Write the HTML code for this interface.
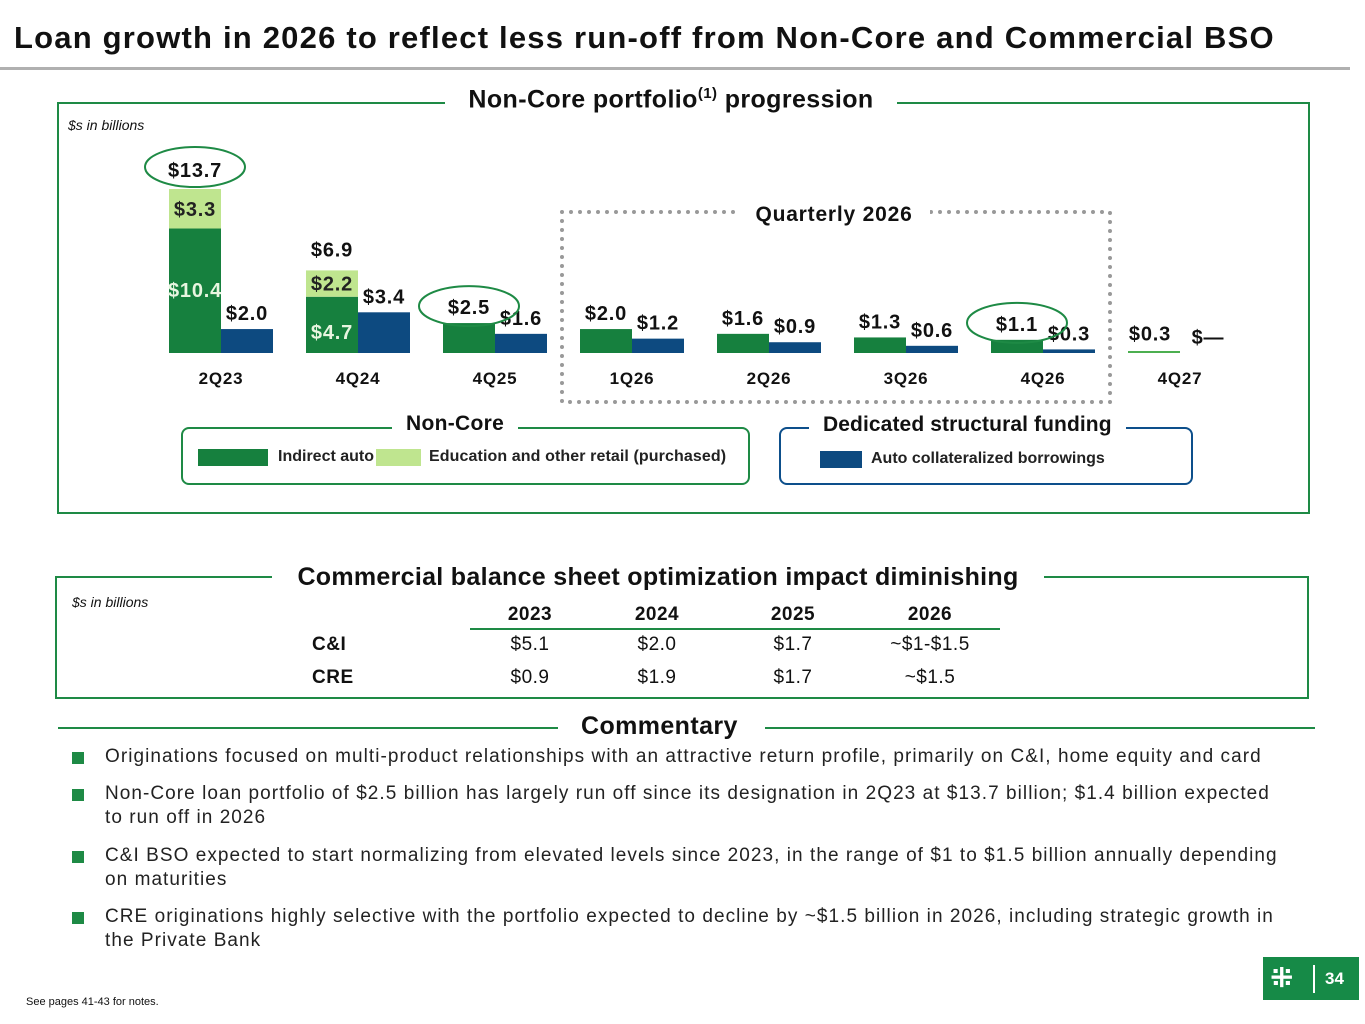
<!DOCTYPE html>
<html><head><meta charset="utf-8"><style>
body{margin:0;width:1365px;height:1024px;background:#fff;font-family:"Liberation Sans","DejaVu Sans",sans-serif;position:relative;overflow:hidden;color:#111}
.a{position:absolute;white-space:nowrap}
.b{font-weight:bold}
</style></head><body>
<div class="a b" style="left:14px;top:20px;font-size:31px;letter-spacing:1.2px;color:#111">Loan growth in 2026 to reflect less run-off from Non-Core and Commercial BSO</div>
<div class="a" style="left:0;top:67px;width:1350px;height:3px;background:#b0b0b0"></div>

<div class="a" style="left:57px;top:102px;width:1249px;height:408px;border:2px solid #1e8a45"></div>
<div class="a b" style="left:445px;top:85px;width:452px;text-align:center;background:#fff;font-size:25px;letter-spacing:0.4px;color:#111">Non-Core portfolio<sup style="font-size:15px">(1)</sup> progression</div>
<div class="a" style="left:68px;top:117px;font-size:14px;font-style:italic">$s in billions</div>

<svg class="a" style="left:0;top:0" width="1365" height="520" id="chart"></svg>

<div class="a" style="left:181px;top:427px;width:565px;height:54px;border:2px solid #1e8a45;border-radius:8px"></div>
<div class="a b" style="left:392px;top:412px;padding:0 14px;background:#fff;font-size:21px;letter-spacing:0.3px;color:#111">Non-Core</div>
<div class="a" style="left:198px;top:449px;width:70px;height:17px;background:#16803e"></div>
<div class="a b" style="left:278px;top:448px;font-size:16px;color:#222">Indirect auto</div>
<div class="a" style="left:376px;top:449px;width:45px;height:17px;background:#bfe58f"></div>
<div class="a b" style="left:429px;top:448px;font-size:16px;letter-spacing:0.1px;color:#222">Education and other retail (purchased)</div>

<div class="a" style="left:779px;top:427px;width:410px;height:54px;border:2px solid #0d4f8b;border-radius:8px"></div>
<div class="a b" style="left:809px;top:413px;padding:0 14px;background:#fff;font-size:21px;letter-spacing:0.1px;color:#111">Dedicated structural funding</div>
<div class="a" style="left:820px;top:451px;width:42px;height:17px;background:#0d4a80"></div>
<div class="a b" style="left:871px;top:450px;font-size:16px;color:#222">Auto collateralized borrowings</div>

<div class="a" style="left:55px;top:576px;width:1250px;height:119px;border:2px solid #1e8a45"></div>
<div class="a b" style="left:272px;top:563px;width:772px;text-align:center;background:#fff;font-size:25px;letter-spacing:0.3px;color:#111">Commercial balance sheet optimization impact diminishing</div>
<div class="a" style="left:72px;top:594px;font-size:14px;font-style:italic">$s in billions</div>
<div class="a" style="left:0;top:0;font-size:19px;letter-spacing:0.5px">
<div class="a b" style="left:480px;top:604px;width:100px;text-align:center">2023</div>
<div class="a b" style="left:607px;top:604px;width:100px;text-align:center">2024</div>
<div class="a b" style="left:743px;top:604px;width:100px;text-align:center">2025</div>
<div class="a b" style="left:870px;top:604px;width:120px;text-align:center">2026</div>
<div class="a" style="left:470px;top:628px;width:530px;height:2px;background:#1e8a45"></div>
<div class="a b" style="left:312px;top:634px">C&amp;I</div>
<div class="a" style="left:480px;top:634px;width:100px;text-align:center">$5.1</div>
<div class="a" style="left:607px;top:634px;width:100px;text-align:center">$2.0</div>
<div class="a" style="left:743px;top:634px;width:100px;text-align:center">$1.7</div>
<div class="a" style="left:860px;top:634px;width:140px;text-align:center">~$1-$1.5</div>
<div class="a b" style="left:312px;top:667px">CRE</div>
<div class="a" style="left:480px;top:667px;width:100px;text-align:center">$0.9</div>
<div class="a" style="left:607px;top:667px;width:100px;text-align:center">$1.9</div>
<div class="a" style="left:743px;top:667px;width:100px;text-align:center">$1.7</div>
<div class="a" style="left:860px;top:667px;width:140px;text-align:center">~$1.5</div>
</div>

<div class="a" style="left:58px;top:727px;width:500px;height:2px;background:#1e8a45"></div>
<div class="a" style="left:765px;top:727px;width:550px;height:2px;background:#1e8a45"></div>
<div class="a b" style="left:581px;top:712px;font-size:25px;letter-spacing:0.4px;color:#111">Commentary</div>
<div class="a" style="left:0;top:0;font-size:19px;line-height:24px;letter-spacing:1.05px;color:#222">
<div class="a" style="left:72px;top:752px;width:12px;height:12px;background:#1e8a45"></div>
<div class="a" style="left:105px;top:745px">Originations focused on multi-product relationships with an attractive return profile, primarily on C&amp;I, home equity and card</div>
<div class="a" style="left:72px;top:789px;width:12px;height:12px;background:#1e8a45"></div>
<div class="a" style="left:105px;top:782px">Non-Core loan portfolio of $2.5 billion has largely run off since its designation in 2Q23 at $13.7 billion; $1.4 billion expected<br>to run off in 2026</div>
<div class="a" style="left:72px;top:851px;width:12px;height:12px;background:#1e8a45"></div>
<div class="a" style="left:105px;top:844px">C&amp;I BSO expected to start normalizing from elevated levels since 2023, in the range of $1 to $1.5 billion annually depending<br>on maturities</div>
<div class="a" style="left:72px;top:912px;width:12px;height:12px;background:#1e8a45"></div>
<div class="a" style="left:105px;top:905px">CRE originations highly selective with the portfolio expected to decline by ~$1.5 billion in 2026, including strategic growth in<br>the Private Bank</div>
</div>
<div class="a" style="left:26px;top:996px;font-size:11px">See pages 41-43 for notes.</div>
<div class="a" style="left:1263px;top:957px;width:96px;height:43px;background:#168a47"></div>
<div class="a b" style="left:1270px;top:961px;font-size:28px;color:#fff">⁜</div>
<div class="a" style="left:1313px;top:965px;width:2px;height:28px;background:#fff"></div>
<div class="a b" style="left:1325px;top:969px;font-size:17px;color:#fff">34</div>

<script>
const categories=["2Q23","4Q24","4Q25","1Q26","2Q26","3Q26","4Q26","4Q27"];
const indirectAuto=[10.4,4.7,2.5,2.0,1.6,1.3,1.1,0.3];
const education=[3.3,2.2,0,0,0,0,0,0];
const autoBorrowings=[2.0,3.4,1.6,1.2,0.9,0.6,0.3,0];
const totals=[13.7,6.9,null,null,null,null,null,null];
const circled=[0,2,6];
const svg=document.getElementById('chart');
const NS='http://www.w3.org/2000/svg';
const base=353, k=11.97, x0=221, step=137, bw=52;
const y=v=>base-v*k;
const xc=i=>x0+i*step;
function mk(t,a){const e=document.createElementNS(NS,t);for(const n in a)e.setAttribute(n,a[n]);svg.appendChild(e);return e;}
function txt(x,yy,s,col,anchor){const e=mk('text',{x:x,y:yy,'font-size':20,'font-weight':'bold','letter-spacing':0.8,'font-family':'Liberation Sans, sans-serif',fill:col||'#111','text-anchor':anchor||'middle'});e.textContent=s;return e;}
const qb=mk('rect',{x:562,y:212,width:548,height:190,fill:'none',stroke:'#999','stroke-width':4,'stroke-dasharray':'0 9','stroke-linecap':'round'});


mk('rect',{x:735,y:200,width:195,height:26,fill:'#fff'});
const qt=txt(834,221,'Quarterly 2026','#111');
qt.setAttribute('font-size','21');


categories.forEach((c,i)=>{
  const cx=xc(i);
  const g=mk('rect',{x:cx-bw,y:y(indirectAuto[i]),width:bw,height:indirectAuto[i]*k,fill:'#16803e'});
  
  
  if(i===categories.length-1){g.setAttribute('height',2);g.setAttribute('y',base-2);g.setAttribute('fill','#4caf50');}
  if(education[i]>0){
    const e=mk('rect',{x:cx-bw,y:y(indirectAuto[i]+education[i]),width:bw,height:education[i]*k,fill:'#bfe58f'});
    
    
  }
  if(autoBorrowings[i]>0){
    const b=mk('rect',{x:cx,y:y(autoBorrowings[i]),width:bw,height:autoBorrowings[i]*k,fill:'#0d4a80'});
    
    
  }
  const cl=txt(cx,384,c);
  cl.setAttribute('font-size','17');
  
  
  if(education[i]>0){
    txt(cx-bw/2,(y(indirectAuto[i])+base)/2+(i===0?6:14),'$'+indirectAuto[i].toFixed(1),'#e8f5e0');
    txt(cx-bw/2,(y(indirectAuto[i]+education[i])+y(indirectAuto[i]))/2+7,'$'+education[i].toFixed(1),'#222');
    txt(cx-bw/2,y(totals[i])-(i===0?12:14),'$'+totals[i].toFixed(1));
  } else {
    txt(cx-bw/2+(i===7?-4:0),y(indirectAuto[i])-9,'$'+indirectAuto[i].toFixed(1));
  }
  txt(cx+bw/2+(i===7?2:0),y(autoBorrowings[i])-9,autoBorrowings[i]>0?'$'+autoBorrowings[i].toFixed(1):'$—');
});
circled.forEach(i=>{
  const v=totals[i]!=null?totals[i]:indirectAuto[i];
  const c=mk('ellipse',{cx:xc(i)-bw/2,cy:y(v)-(totals[i]!=null?22:17),rx:50,ry:20,fill:'none',stroke:'#1e8a45','stroke-width':2});
  
  
});
</script>
</body></html>
